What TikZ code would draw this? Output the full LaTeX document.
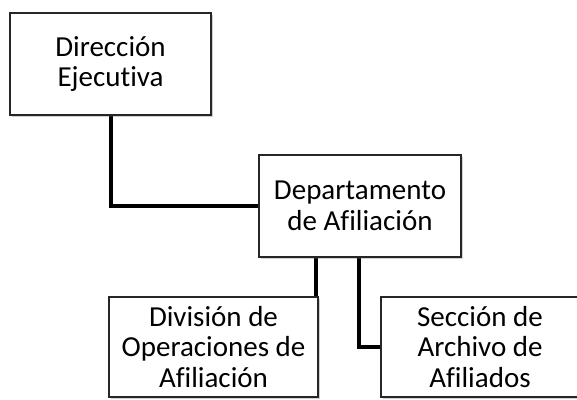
\documentclass[tikz,border=0pt]{standalone}
\usepackage{fontspec}
\setmainfont{Carlito}[Ligatures=NoCommon]
\usetikzlibrary{shadows}
\pgfdeclarelayer{background}
\pgfsetlayers{background,main}
\begin{document}
\begin{tikzpicture}[x=1pt,y=-1pt,
  box/.style={draw=black!85, line width=1.3pt, fill=white,
    drop shadow={shadow xshift=1.5pt, shadow yshift=-1.5pt, opacity=0.3, fill=black!60},
    inner sep=0pt, align=center, font=\fontsize{29}{30.5}\selectfont},
  link/.style={line width=4pt, black}]
\useasboundingbox (0,0) rectangle (577,399);
\clip (0,0) rectangle (577,399);
\node[box, minimum width=201pt, minimum height=102pt] (dir) at (110.5,64) {Dirección\\Ejecutiva};
\node[box, minimum width=202pt, minimum height=102pt] (dep) at (360,206) {Departamento\\de Afiliación};
\node[box, minimum width=209pt, minimum height=100pt] (div) at (213.5,347) {División de\\Operaciones de\\Afiliación};
\node[box, minimum width=198pt, minimum height=100pt] (sec) at (480,347) {Sección de\\Archivo de\\Afiliados};
\coordinate (c1) at (316,0);
\coordinate (c2) at (359,0);
\begin{pgfonlayer}{background}
\draw[link] (dir.south) |- (dep.west);
\draw[link] (dep.south -| c1) -- (div.north -| c1);
\draw[link] (dep.south -| c2) |- (sec.west);
\end{pgfonlayer}
\end{tikzpicture}
\end{document}
